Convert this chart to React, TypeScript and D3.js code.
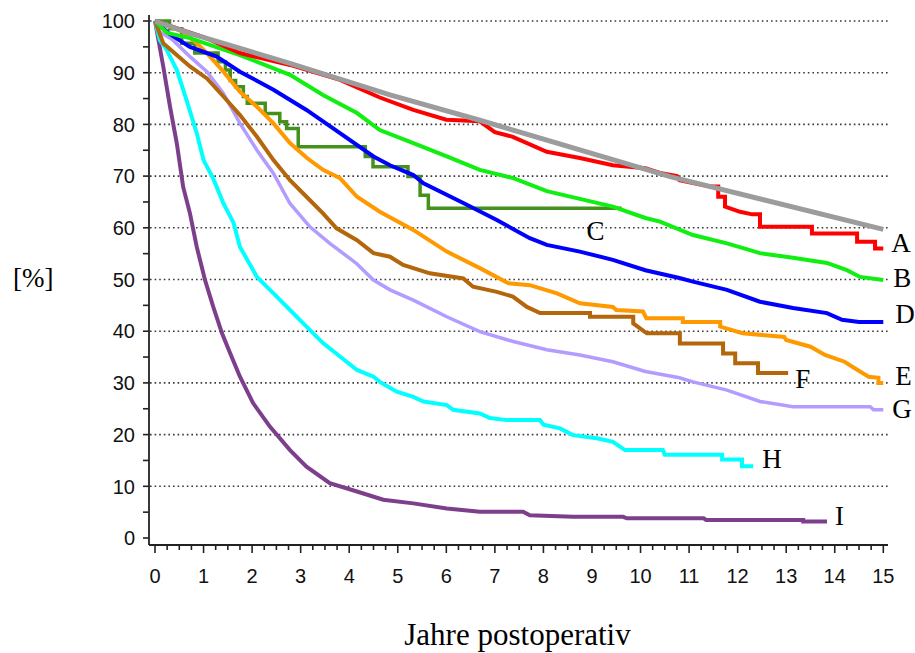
import React from "react";
import * as d3 from "d3";

// ---- data: [years postoperative, survival %] ----
const expected: [number, number][] = [
  [0, 100], [0.72, 97.6], [2.78, 91.8], [4.84, 85.7], [6.69, 80.8], [10.61, 69.9], [15, 59.7],
];
const seriesA: [number, number][] = [
  [0, 100], [1, 96.9], [1.75, 93.8], [2.78, 91.5], [3.81, 88.6], [4.63, 85.2], [5.32, 82.8],
  [6.0, 80.9], [6.69, 80.6], [7.0, 78.5], [7.37, 77.6], [8.07, 74.7], [8.75, 73.5], [9.43, 72.1],
  [10.1, 71.5], [10.4, 70.6], [10.75, 70.0], [10.8, 69.2], [11.43, 68], [11.6, 68], [11.6, 66],
  [11.74, 66], [11.74, 64.1], [12.05, 63.1], [12.3, 62.6], [12.46, 62.6], [12.46, 60.2],
  [13.53, 60.2], [13.53, 58.9], [14.46, 58.9], [14.46, 57.3], [14.83, 57.3], [14.83, 56.0], [15, 56.0],
];
const seriesB: [number, number][] = [
  [0, 100], [0.25, 97.7], [0.72, 96.7], [1.75, 93.4], [2.78, 89.6], [3.46, 85.7], [4.16, 82.2],
  [4.63, 78.9], [5.32, 76.4], [6.01, 73.8], [6.69, 71.2], [7.38, 69.6], [8.07, 67.1], [8.75, 65.6],
  [9.43, 64.1], [10.1, 61.9], [10.4, 61.2], [11.08, 58.6], [11.78, 57.0], [12.46, 55.1],
  [13.14, 54.2], [13.84, 53.2], [14.25, 51.8], [14.52, 50.5], [15, 49.9],
];
const seriesC: [number, number][] = [
  [0, 100], [0.3, 98.5], [0.55, 95.7], [0.82, 93.8], [1.3, 92.1], [1.45, 90.5], [1.55, 88.5],
  [1.66, 87.3], [1.82, 85.4], [1.9, 84.1], [2.27, 82.1], [2.57, 80.5], [2.71, 79.2], [2.95, 75.7],
  [4.33, 73.8], [4.49, 71.8], [5.21, 69.9], [5.46, 66.3], [5.63, 63.8], [9.61, 63.8],
];
const seriesD: [number, number][] = [
  [0, 100], [0.3, 97.5], [0.72, 95.0], [1.27, 93.1], [1.75, 90.2], [2.44, 86.7], [3.12, 82.8],
  [3.81, 78.3], [4.5, 73.8], [4.84, 72.1], [5.32, 70.2], [5.53, 68.6], [6.35, 64.8], [7.04, 61.5],
  [7.72, 58.0], [8.07, 56.7], [8.75, 55.4], [9.43, 53.8], [10.1, 51.8], [10.8, 50.3], [11.08, 49.6],
  [11.78, 48.0], [12.46, 45.7], [13.14, 44.5], [13.84, 43.5], [14.15, 42.2], [14.5, 41.8], [15, 41.8],
];
const seriesE: [number, number][] = [
  [0, 100], [0.3, 98.9], [0.58, 97.9], [0.86, 95.7], [1.07, 93.8], [1.41, 90.2], [1.75, 86.3],
  [2.1, 83.4], [2.44, 80.2], [2.78, 76.4], [3.13, 73.5], [3.46, 71.2], [3.81, 69.6], [4.16, 66.0],
  [4.63, 63.1], [5.32, 59.6], [6.01, 55.4], [6.69, 52.2], [7.27, 49.3], [7.72, 48.9], [8.28, 47.3],
  [8.75, 45.4], [9.43, 44.7], [9.5, 44.1], [10.05, 43.8], [10.12, 42.5], [10.87, 42.5], [10.87, 41.8],
  [11.64, 41.8], [11.64, 40.9], [12.1, 39.6], [12.96, 38.9], [13.0, 38.3], [13.5, 37.0], [13.8, 35.4],
  [14.2, 34.1], [14.52, 32.2], [14.7, 31.2], [14.9, 31.0], [14.9, 30.0], [15, 30.0],
];
const seriesF: [number, number][] = [
  [0, 100], [0.17, 95.7], [0.72, 91.2], [1.07, 88.9], [1.41, 85.4], [1.75, 81.8], [2.1, 77.6],
  [2.44, 73.1], [2.78, 69.2], [3.12, 66.0], [3.46, 62.8], [3.74, 59.9], [4.16, 57.6], [4.5, 55.1],
  [4.84, 54.4], [5.11, 52.8], [5.66, 51.2], [6.35, 50.2], [6.55, 48.6], [7.04, 47.6], [7.37, 46.7],
  [7.66, 44.7], [7.93, 43.5], [8.96, 43.5], [8.96, 42.8], [9.85, 42.8], [9.85, 41.5], [10.13, 39.6],
  [10.81, 39.6], [10.81, 37.6], [11.7, 37.6], [11.7, 35.7], [11.95, 35.7], [11.95, 33.8],
  [12.42, 33.8], [12.42, 31.9], [13.04, 31.9],
];
const seriesG: [number, number][] = [
  [0, 100], [0.1, 97.9], [0.37, 96.3], [0.72, 93.1], [1.07, 90.2], [1.41, 86.0], [1.75, 80.2],
  [2.1, 75.0], [2.44, 70.5], [2.78, 64.7], [3.19, 60.2], [3.6, 57.0], [4.15, 53.1], [4.5, 49.9],
  [4.84, 48.0], [5.32, 46.0], [6.01, 42.8], [6.69, 39.9], [7.38, 38.0], [8.07, 36.4], [8.75, 35.4],
  [9.43, 34.1], [10.1, 32.2], [10.8, 31.0], [11.08, 30.2], [11.78, 28.6], [12.46, 26.4],
  [13.14, 25.4], [14.73, 25.4], [14.8, 24.8], [15, 24.8],
];
const seriesH: [number, number][] = [
  [0, 100], [0.1, 96.3], [0.24, 94.4], [0.45, 90.5], [0.65, 84.7], [0.86, 78.3], [1.0, 73.1],
  [1.2, 69.5], [1.41, 64.7], [1.62, 60.9], [1.75, 56.3], [2.1, 50.5], [2.44, 47.3], [2.78, 44.1],
  [3.12, 40.9], [3.46, 37.7], [3.81, 35.1], [4.16, 32.5], [4.5, 31.2], [4.63, 30.2], [4.98, 28.3],
  [5.32, 27.3], [5.53, 26.4], [6.01, 25.7], [6.14, 24.8], [6.69, 24.1], [6.9, 23.2], [7.25, 22.8],
  [7.93, 22.8], [8.0, 21.9], [8.34, 21.2], [8.61, 19.9], [9.1, 19.3], [9.43, 18.6], [9.68, 17.0],
  [10.46, 17.0], [10.5, 16.1], [11.68, 16.1], [11.68, 15.2], [12.09, 15.2], [12.09, 13.9], [12.32, 13.9],
];
const seriesI: [number, number][] = [
  [0, 100], [0.17, 91.2], [0.31, 83.4], [0.45, 76.3], [0.58, 67.9], [0.72, 62.8], [0.86, 56.3],
  [1.03, 49.9], [1.2, 44.7], [1.38, 39.6], [1.55, 35.7], [1.75, 31.2], [2.02, 26.1], [2.37, 21.5],
  [2.78, 17.0], [3.12, 13.8], [3.6, 10.6], [4.16, 9.0], [4.7, 7.4], [5.32, 6.7], [6.01, 5.7],
  [6.69, 5.1], [7.58, 5.1], [7.72, 4.4], [8.61, 4.1], [9.64, 4.1], [9.72, 3.8], [11.3, 3.8],
  [11.35, 3.5], [13.35, 3.5], [13.35, 3.2], [13.84, 3.2],
];

const seriesNames = ["A", "B", "C", "D", "E", "F", "G", "H", "I"];
const yTicks = [0, 10, 20, 30, 40, 50, 60, 70, 80, 90, 100];
const xTicks = [0, 1, 2, 3, 4, 5, 6, 7, 8, 9, 10, 11, 12, 13, 14, 15];
const yLabel = "[%]";
const xLabel = "Jahre postoperativ";

// ---- styles / layout ----
const W = 915;
const H = 653;
const styles: Record<string, { color: string; width: number; dx: number; dy: number }> = {
  A: { color: "#ff0000", width: 4, dx: 8, dy: 4 },
  B: { color: "#11ee11", width: 4, dx: 10, dy: 7 },
  C: { color: "#44911c", width: 3.5, dx: -35, dy: 32 },
  D: { color: "#0000ff", width: 4, dx: 12, dy: 1 },
  E: { color: "#ff9900", width: 4, dx: 12, dy: 2 },
  F: { color: "#b3660a", width: 4, dx: 7, dy: 15 },
  G: { color: "#b39cff", width: 3.5, dx: 9, dy: 8 },
  H: { color: "#00ffff", width: 4, dx: 9, dy: 2 },
  I: { color: "#7d3f8c", width: 4, dx: 8, dy: 3.5 },
};
const seriesData: Record<string, [number, number][]> = {
  A: seriesA, B: seriesB, C: seriesC, D: seriesD, E: seriesE,
  F: seriesF, G: seriesG, H: seriesH, I: seriesI,
};
const drawOrder = ["C", "I", "H", "G", "F", "E", "D", "B", "A"];

export default function App() {
  const x = d3.scaleLinear().domain([0, 15]).range([155, 883.3]);
  const y = d3.scaleLinear().domain([0, 100]).range([538, 21]);
  const line = d3
    .line<[number, number]>()
    .x((d) => x(d[0]))
    .y((d) => y(d[1]))
    .curve(d3.curveLinear);
  const stepLine = d3
    .line<[number, number]>()
    .x((d) => x(d[0]))
    .y((d) => y(d[1]))
    .curve(d3.curveStepAfter);

  const axisX = 149;
  const axisY = 545;
  const minorY = d3.range(5, 100, 10);
  const minorX = d3.range(0, 15.01, 0.25).filter((v) => Math.abs(v - Math.round(v)) > 1e-6);
  const sans = "'Liberation Sans', Arial, Helvetica, sans-serif";
  const serif = "'Liberation Serif', 'Times New Roman', Times, serif";

  return (
    <svg
      width={W}
      height={H}
      style={{ position: "absolute", left: 0, top: 0, background: "#fff" }}
    >
      <rect x={0} y={0} width={W} height={H} fill="#fff" />
      {/* grid */}
      {yTicks.filter((v) => v > 0).map((v) => (
        <line
          key={"g" + v}
          x1={axisX + 1}
          x2={889}
          y1={y(v)}
          y2={y(v)}
          stroke="#3a3a3a"
          strokeWidth={1.6}
          strokeDasharray="1.6,3"
        />
      ))}
      {/* axes */}
      <line x1={axisX} x2={axisX} y1={15} y2={axisY} stroke="#222" strokeWidth={1.8} />
      <line x1={axisX} x2={888} y1={axisY} y2={axisY} stroke="#222" strokeWidth={1.8} />
      {yTicks.map((v) => (
        <g key={"yt" + v}>
          <line x1={axisX - 6} x2={axisX} y1={y(v)} y2={y(v)} stroke="#222" strokeWidth={1.6} />
          <text
            x={135}
            y={y(v)}
            dy="0.36em"
            textAnchor="end"
            fontFamily={sans}
            fontSize={20}
            fill="#111"
          >
            {v}
          </text>
        </g>
      ))}
      {minorY.map((v) => (
        <line key={"ym" + v} x1={axisX - 6} x2={axisX} y1={y(v)} y2={y(v)} stroke="#222" strokeWidth={1.6} />
      ))}
      {xTicks.map((v) => (
        <g key={"xt" + v}>
          <line x1={x(v)} x2={x(v)} y1={axisY} y2={axisY + 8} stroke="#222" strokeWidth={1.6} />
          <text x={x(v)} y={583} textAnchor="middle" fontFamily={sans} fontSize={20} fill="#111">
            {v}
          </text>
        </g>
      ))}
      {minorX.map((v) => (
        <line key={"xm" + v} x1={x(v)} x2={x(v)} y1={axisY} y2={axisY + 5} stroke="#222" strokeWidth={1.6} />
      ))}
      {/* series */}
      {drawOrder.map((k) => (
        <path
          key={k}
          d={(k === "C" ? stepLine : line)(seriesData[k]) || ""}
          fill="none"
          stroke={styles[k].color}
          strokeWidth={styles[k].width}
          strokeLinejoin="miter"
        />
      ))}
      <path d={line(expected) || ""} fill="none" stroke="#9c9c9c" strokeWidth={5} />
      {/* series labels */}
      {seriesNames.map((k) => {
        const last = seriesData[k][seriesData[k].length - 1];
        return (
          <text
            key={"l" + k}
            x={x(last[0]) + styles[k].dx}
            y={y(last[1]) + styles[k].dy}
            fontFamily={serif}
            fontSize={27}
            fill="#000"
          >
            {k}
          </text>
        );
      })}
      <text x={13} y={287} fontFamily={serif} fontSize={27} fill="#000">
        {yLabel}
      </text>
      <text x={517.5} y={645} textAnchor="middle" fontFamily={serif} fontSize={31} fill="#000">
        {xLabel}
      </text>
    </svg>
  );
}
